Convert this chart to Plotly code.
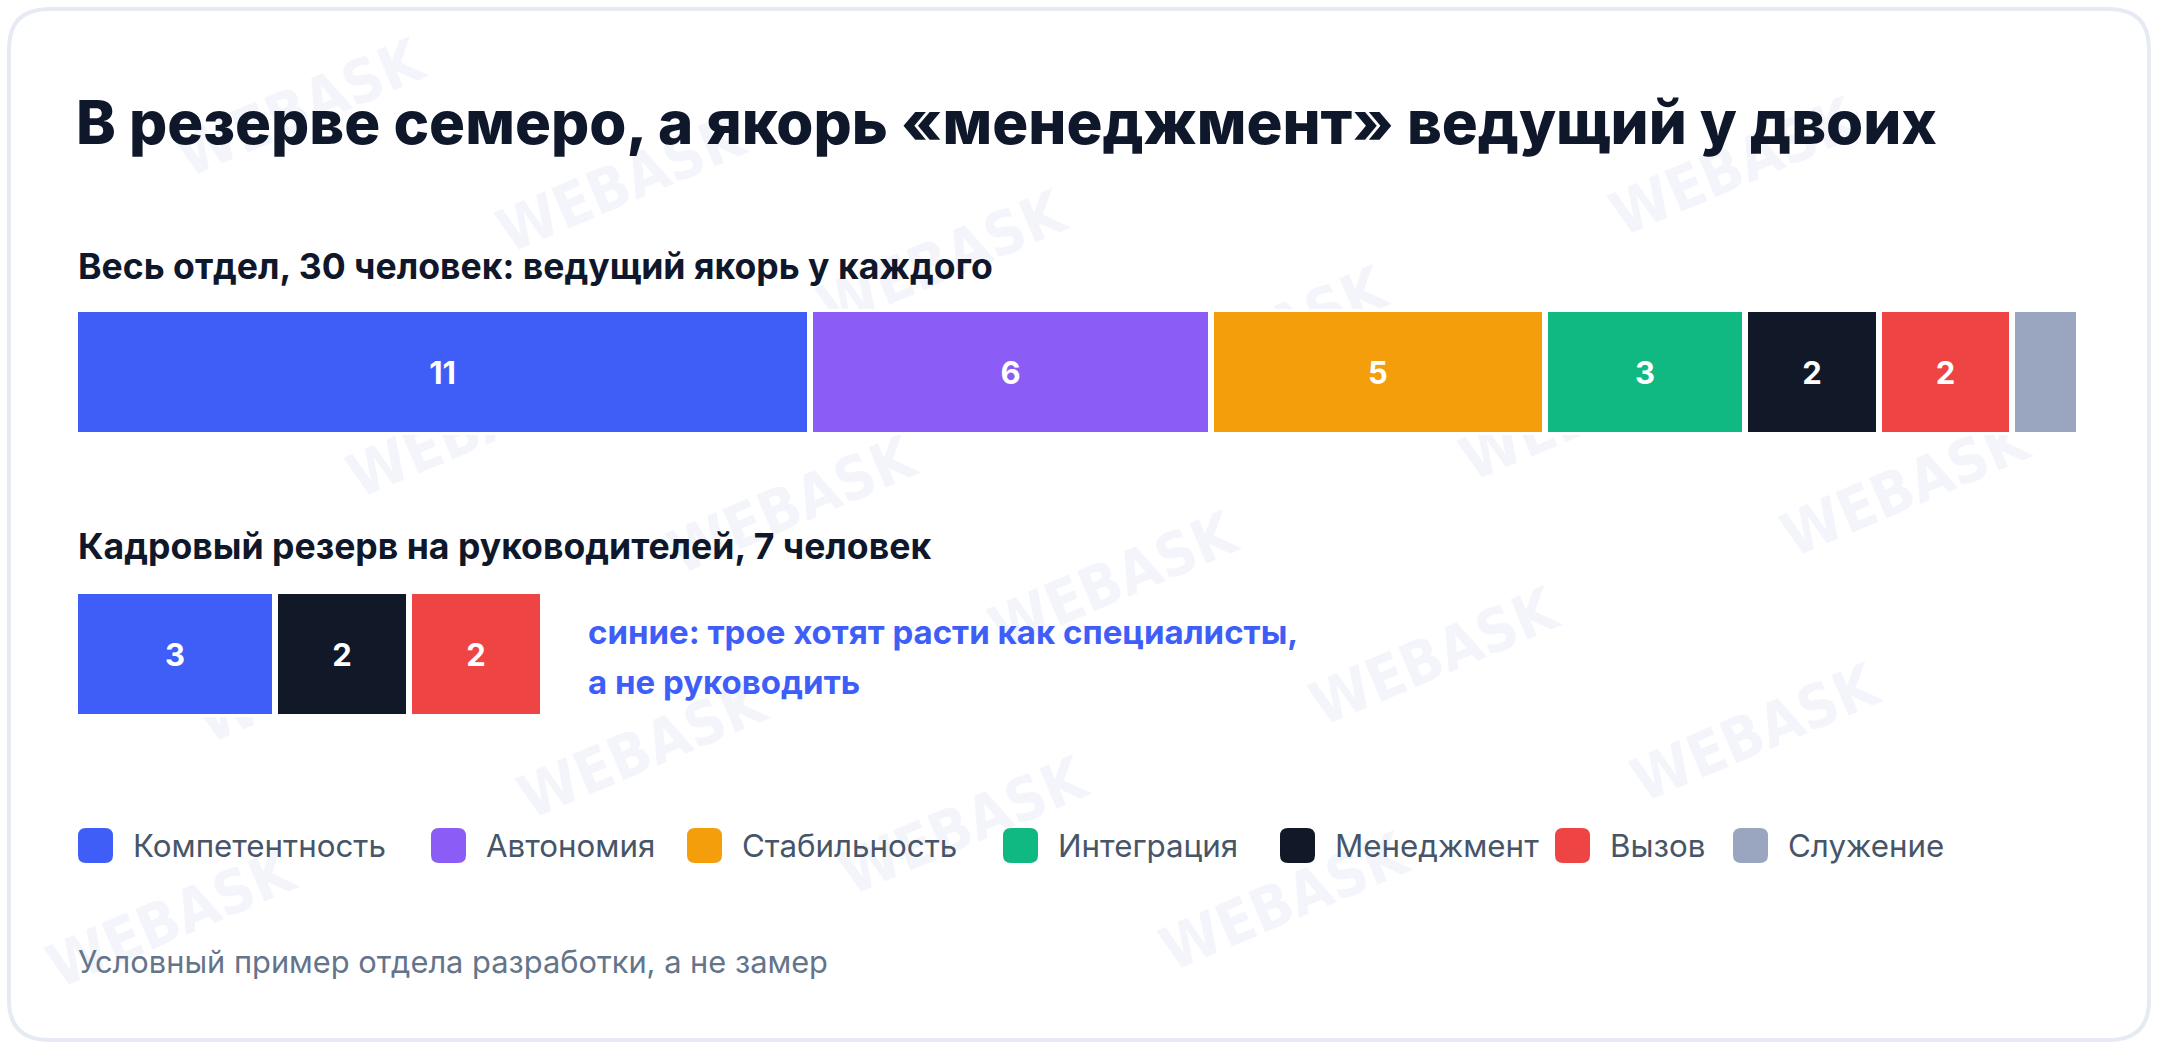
import plotly.graph_objects as go

# ---------------- data ----------------
categories = ["Компетентность", "Автономия", "Стабильность", "Интеграция",
              "Менеджмент", "Вызов", "Служение"]
colors = ["#3F5EF8", "#8B5CF6", "#F59E0B", "#10B981", "#111827", "#EF4444", "#9AA6BF"]
dept_values = [11, 6, 5, 3, 2, 2, 1]          # весь отдел, 30 человек
reserve_values = [3, 0, 0, 0, 2, 2, 0]        # кадровый резерв, 7 человек
dept_total = 30

title_text = "В резерве семеро, а якорь «менеджмент» ведущий у двоих"
sub1_text = "Весь отдел, 30 человек: ведущий якорь у каждого"
sub2_text = "Кадровый резерв на руководителей, 7 человек"
note_lines = ["синие: трое хотят расти как специалисты,", "а не руководить"]
footer_text = "Условный пример отдела разработки, а не замер"
watermark_text = "WEBASK"

# ---------------- layout helpers ----------------
W, H = 2160, 1050
FONT = "Inter"


def X(px):
    return px / W


def Y(py):
    return 1 - py / H


def rounded_path(x0, y0, x1, y1, r):
    pts = [
        ("M", [(x0 + r, y0)]), ("L", [(x1 - r, y0)]), ("Q", [(x1, y0), (x1, y0 + r)]),
        ("L", [(x1, y1 - r)]), ("Q", [(x1, y1), (x1 - r, y1)]), ("L", [(x0 + r, y1)]),
        ("Q", [(x0, y1), (x0, y1 - r)]), ("L", [(x0, y0 + r)]), ("Q", [(x0, y0), (x0 + r, y0)]),
    ]
    s = ""
    for cmd, ps in pts:
        s += cmd + " " + " ".join(f"{X(a):.6f},{Y(b):.6f}" for a, b in ps) + " "
    return s + "Z"


fig = go.Figure()

# bars: whole department
for cat, col, v in zip(categories, colors, dept_values):
    fig.add_trace(go.Bar(
        y=["dept"], x=[v], orientation="h", name=cat,
        marker=dict(color=col, line=dict(color="white", width=6)),
        text=[str(v) if v > 1 else ""], textposition="inside",
        insidetextanchor="middle", textangle=0,
        textfont=dict(family=FONT, size=31, color="white", weight=700),
        xaxis="x", yaxis="y", showlegend=False, hoverinfo="name+x",
    ))

# bars: reserve
for cat, col, v in zip(categories, colors, reserve_values):
    if v <= 0:
        continue
    fig.add_trace(go.Bar(
        y=["reserve"], x=[v], orientation="h", name=cat,
        marker=dict(color=col, line=dict(color="white", width=6)),
        text=[str(v)], textposition="inside",
        insidetextanchor="middle", textangle=0,
        textfont=dict(family=FONT, size=31, color="white", weight=700),
        xaxis="x2", yaxis="y2", showlegend=False, hoverinfo="name+x",
    ))

shapes = []
annotations = []

# card
shapes.append(dict(type="path", xref="paper", yref="paper", layer="below",
                   path=rounded_path(9, 9, 2149, 1040, 40),
                   line=dict(color="#E6EBF3", width=4), fillcolor="rgba(0,0,0,0)"))

# watermark tiles (kept fully inside the card)
origin = (1111, 577)
u = (321, 76)
v = (-150, 245)
for a in range(-8, 10):
    for b in range(-4, 5):
        cx = origin[0] + a * u[0] + b * v[0]
        cy = origin[1] + a * u[1] + b * v[1]
        if 150 < cx < 2010 and 100 < cy < 950:
            shapes.append(dict(
                type="rect", xref="paper", yref="paper", layer="below",
                x0=X(cx - 5), x1=X(cx + 5), y0=Y(cy + 5), y1=Y(cy - 5),
                line=dict(width=0), fillcolor="rgba(0,0,0,0)",
                label=dict(text=watermark_text, textangle=-23,
                           textposition="middle center",
                           font=dict(family="DejaVu Sans Condensed", size=60,
                                     color="#F3F5FB", weight=700))))


def add_text(text, x_px, y_px, size, color, weight=400):
    annotations.append(dict(
        text=text, xref="paper", yref="paper", x=X(x_px), y=Y(y_px),
        xanchor="left", yanchor="middle", showarrow=False, align="left",
        font=dict(family=FONT, size=size, color=color, weight=weight)))


add_text(title_text, 74, 122, 60, "#0F172A", 800)
add_text(sub1_text, 76, 266, 35.6, "#0F172A", 700)
add_text(sub2_text, 76, 546, 35.6, "#0F172A", 700)
add_text(note_lines[0], 586, 632, 33, "#3F5EF8", 700)
add_text(note_lines[1], 586, 682, 33, "#3F5EF8", 700)
add_text(footer_text, 76, 961, 30.8, "#64748B", 400)

# legend (manual, large rounded swatches)
legend_left_px = [78, 431, 687, 1003, 1280, 1555, 1733]
for cat, col, lx in zip(categories, colors, legend_left_px):
    shapes.append(dict(type="path", xref="paper", yref="paper", layer="above",
                       path=rounded_path(lx, 828, lx + 35, 863, 8),
                       line=dict(width=0), fillcolor=col))
    add_text(cat, lx + 53, 846, 31.3, "#475569", 400)

fig.update_layout(
    width=W, height=H,
    margin=dict(l=0, r=0, t=0, b=0),
    paper_bgcolor="white", plot_bgcolor="rgba(0,0,0,0)",
    barmode="stack", bargap=0,
    showlegend=False,
    xaxis=dict(domain=[X(75), X(2079)], range=[0, dept_total], visible=False,
               fixedrange=True, anchor="y"),
    yaxis=dict(domain=[Y(435), Y(309)], range=[-0.5, 0.5], visible=False,
               fixedrange=True, anchor="x"),
    xaxis2=dict(domain=[X(75), X(2079)], range=[0, dept_total], visible=False,
                fixedrange=True, anchor="y2"),
    yaxis2=dict(domain=[Y(717), Y(591)], range=[-0.5, 0.5], visible=False,
                fixedrange=True, anchor="x2"),
    shapes=shapes,
    annotations=annotations,
)

fig.write_html("out.html", config={"displayModeBar": False},
               post_script="document.body.style.margin='0';document.body.style.overflow='hidden';")
